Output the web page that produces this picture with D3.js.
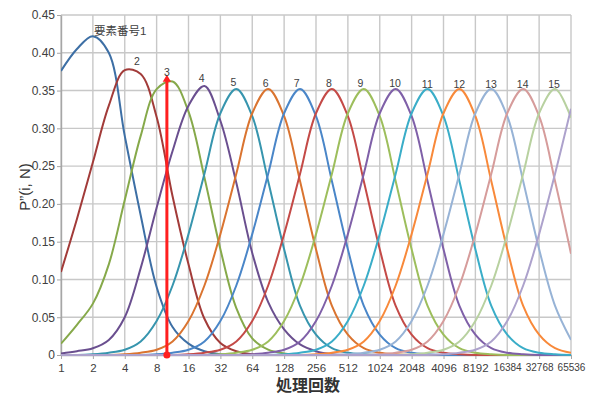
<!DOCTYPE html>
<html>
<head>
<meta charset="utf-8">
<script src="https://cdn.jsdelivr.net/npm/d3@7"></script>
<style>
body { margin: 0; background: #fff; }
text { font-family: "Liberation Sans", "Noto Sans CJK JP", sans-serif; fill: #404040; }
</style>
</head>
<body>
<svg id="chart" width="592" height="396"></svg>
<script>
// log2 of the processing count N at which every curve was read
var logN = [0,0.5,1,1.5,2,2.5,3,3.5,4,4.5,5,5.5,6,6.5,7,7.5,8,8.5,9,9.5,10,10.5,11,11.5,12,12.5,13,13.5,14,14.5,15,15.5,16];

var xTicks = [1,2,4,8,16,32,64,128,256,512,1024,2048,4096,8192,16384,32768,65536];
var yTicks = [0,0.05,0.10,0.15,0.20,0.25,0.30,0.35,0.40,0.45];

// P''(i, N), one array per element number i
var p1  = [0.376,0.405,0.422,0.400,0.290,0.185,0.090,0.037,0.015,0.005,0.001,0,0,0,0,0,0,0,0,0,0,0,0,0,0,0,0,0,0,0,0,0,0];
var p2  = [0.110,0.180,0.255,0.330,0.377,0.372,0.315,0.210,0.120,0.048,0.016,0.005,0.001,0,0,0,0,0,0,0,0,0,0,0,0,0,0,0,0,0,0,0,0];
var p3  = [0.015,0.040,0.068,0.120,0.205,0.290,0.352,0.362,0.322,0.235,0.140,0.062,0.022,0.007,0.002,0,0,0,0,0,0,0,0,0,0,0,0,0,0,0,0,0,0];
var p4  = [0.002,0.005,0.009,0.020,0.050,0.115,0.195,0.270,0.330,0.356,0.310,0.228,0.135,0.070,0.034,0.014,0.005,0.001,0,0,0,0,0,0,0,0,0,0,0,0,0,0,0];
var p5  = [0,0,0.001,0.003,0.007,0.018,0.045,0.092,0.160,0.240,0.320,0.352,0.316,0.230,0.140,0.065,0.027,0.009,0.003,0.001,0,0,0,0,0,0,0,0,0,0,0,0,0];
var p6  = [0,0,0,0,0.001,0.003,0.007,0.018,0.045,0.092,0.160,0.240,0.320,0.352,0.316,0.230,0.140,0.065,0.027,0.009,0.003,0.001,0,0,0,0,0,0,0,0,0,0,0];
var p7  = [0,0,0,0,0,0,0.001,0.003,0.007,0.018,0.045,0.092,0.160,0.240,0.320,0.352,0.316,0.230,0.140,0.065,0.027,0.009,0.003,0.001,0,0,0,0,0,0,0,0,0];
var p8  = [0,0,0,0,0,0,0,0,0.001,0.003,0.007,0.018,0.045,0.092,0.160,0.240,0.320,0.352,0.316,0.230,0.140,0.065,0.027,0.009,0.003,0.001,0,0,0,0,0,0,0];
var p9  = [0,0,0,0,0,0,0,0,0,0,0.001,0.003,0.007,0.018,0.045,0.092,0.160,0.240,0.320,0.352,0.316,0.230,0.140,0.065,0.027,0.009,0.003,0.001,0,0,0,0,0];
var p10 = [0,0,0,0,0,0,0,0,0,0,0,0,0.001,0.003,0.007,0.018,0.045,0.092,0.160,0.240,0.320,0.352,0.316,0.230,0.140,0.065,0.027,0.009,0.003,0.001,0,0,0];
var p11 = [0,0,0,0,0,0,0,0,0,0,0,0,0,0,0.001,0.003,0.007,0.018,0.045,0.092,0.160,0.240,0.320,0.352,0.316,0.230,0.140,0.065,0.027,0.009,0.003,0.001,0];
var p12 = [0,0,0,0,0,0,0,0,0,0,0,0,0,0,0,0,0.001,0.003,0.007,0.018,0.045,0.092,0.160,0.240,0.320,0.352,0.316,0.230,0.140,0.065,0.027,0.009,0.003];
var p13 = [0,0,0,0,0,0,0,0,0,0,0,0,0,0,0,0,0,0,0.001,0.003,0.007,0.018,0.045,0.092,0.160,0.240,0.320,0.352,0.316,0.230,0.140,0.065,0.020];
var p14 = [0,0,0,0,0,0,0,0,0,0,0,0,0,0,0,0,0,0,0,0,0.001,0.003,0.007,0.018,0.045,0.092,0.160,0.240,0.320,0.352,0.316,0.230,0.134];
var p15 = [0,0,0,0,0,0,0,0,0,0,0,0,0,0,0,0,0,0,0,0,0,0,0.001,0.003,0.007,0.018,0.045,0.092,0.160,0.240,0.320,0.352,0.314];
var p16 = [0,0,0,0,0,0,0,0,0,0,0,0,0,0,0,0,0,0,0,0,0,0,0,0,0.001,0.003,0.007,0.018,0.045,0.092,0.160,0.240,0.326];

var series = [p1,p2,p3,p4,p5,p6,p7,p8,p9,p10,p11,p12,p13,p14,p15,p16];

var colors = ["#3d6fa5","#a23b39","#86a94a","#6a4f8f","#3795ae","#da7430",
              "#4a86c8","#c44a47","#9dbe5c","#7f60a8","#3aadc8","#f8893a",
              "#97b3d6","#d69c9b","#b8d1a0","#ada2cc"];

// peak labels (curve 16 has none)
var labelText = ["要素番号1","2","3","4","5","6","7","8","9","10","11","12","13","14","15"];
var labelN = [2.05,5.2,10,21.3,42.4,85.7,168,339,671,1427,2880,5780,11500,22900,45300];
var labelP = [0.429,0.389,0.374,0.366,0.361,0.360,0.360,0.359,0.359,0.360,0.358,0.358,0.358,0.358,0.358];

// red marker line
var markN = 10;
var markP = 0.366;

var W = 592, H = 396;
var margin = {left: 61, right: 21, top: 15, bottom: 41};

var svg = d3.select("#chart");

var x = d3.scaleLog().base(2).domain([1, 65536]).range([margin.left, W - margin.right]);
var y = d3.scaleLinear().domain([0, 0.45]).range([H - margin.bottom, margin.top]);

svg.append("clipPath").attr("id", "plot")
  .append("rect")
    .attr("x", x(1)).attr("y", y(0.45) - 2)
    .attr("width", x(65536) - x(1)).attr("height", y(0) - y(0.45) + 3);

// grid
svg.append("g").selectAll("line").data(xTicks).enter().append("line")
    .attr("x1", function(d) { return x(d); })
    .attr("x2", function(d) { return x(d); })
    .attr("y1", y(0)).attr("y2", y(0.45))
    .attr("stroke", "#c8c8c8").attr("stroke-width", 1.4);
svg.append("g").selectAll("line").data(yTicks).enter().append("line")
    .attr("y1", function(d) { return y(d); })
    .attr("y2", function(d) { return y(d); })
    .attr("x1", x(1)).attr("x2", x(65536))
    .attr("stroke", "#c8c8c8").attr("stroke-width", 1.4);

// axes
var xAxis = d3.axisBottom(x).tickValues(xTicks).tickFormat(function(d) { return d; }).tickSizeInner(4).tickSizeOuter(0);
var gx = svg.append("g").attr("transform", "translate(0," + y(0) + ")").call(xAxis);
gx.select(".domain").attr("stroke", "#a6a6a6").attr("stroke-width", 1.4);
gx.selectAll(".tick line").attr("stroke", "#a6a6a6");
gx.selectAll(".tick text")
    .attr("y", 9)
    .style("font-size", function(d) { return d >= 16384 ? "10px" : "11.5px"; })
    .style("fill", "#404040");

var yAxis = d3.axisLeft(y).tickValues(yTicks)
    .tickFormat(function(d) { return d === 0 ? "0" : d3.format(".2f")(d); })
    .tickSizeInner(4).tickSizeOuter(0);
var gy = svg.append("g").attr("transform", "translate(" + x(1) + ",0)").call(yAxis);
gy.select(".domain").attr("stroke", "#a6a6a6").attr("stroke-width", 1.4);
gy.selectAll(".tick line").attr("stroke", "#a6a6a6");
gy.selectAll(".tick text").attr("x", -6).style("font-size", "12px").style("fill", "#404040");

// curves
var line = d3.line()
    .x(function(d, i) { return x(Math.pow(2, logN[i])); })
    .y(function(d) { return y(d); })
    .curve(d3.curveCatmullRom.alpha(0.5));

svg.append("g").attr("clip-path", "url(#plot)")
  .selectAll("path").data(series).enter().append("path")
    .attr("d", line)
    .attr("fill", "none")
    .attr("stroke", function(d, i) { return colors[i]; })
    .attr("stroke-width", 2);

// red marker
svg.append("line")
    .attr("x1", x(markN)).attr("x2", x(markN))
    .attr("y1", y(0)).attr("y2", y(markP))
    .attr("stroke", "#ff1f1f").attr("stroke-width", 3);
svg.append("circle")
    .attr("cx", x(markN)).attr("cy", y(0)).attr("r", 3.5)
    .attr("fill", "#ff1f1f");
svg.append("path")
    .attr("d", d3.symbol().type(d3.symbolTriangle).size(30))
    .attr("transform", "translate(" + x(markN) + "," + (y(markP) + 1) + ")")
    .attr("fill", "#ff1f1f");

// peak labels
svg.append("g").selectAll("text").data(labelText).enter().append("text")
    .attr("x", function(d, i) { return x(labelN[i]); })
    .attr("y", function(d, i) { return y(labelP[i]); })
    .attr("dy", "0.35em")
    .attr("text-anchor", function(d, i) { return i === 0 ? "start" : "middle"; })
    .style("font-size", function(d, i) { return i === 0 ? "11.5px" : "10.5px"; })
    .text(function(d) { return d; });

// axis titles
svg.append("text")
    .attr("x", 308).attr("y", 391)
    .attr("text-anchor", "middle")
    .style("font-size", "16px").style("font-weight", "bold")
    .style("fill", "#333")
    .text("処理回数");

svg.append("text")
    .attr("transform", "translate(30," + 187 + ") rotate(-90)")
    .attr("text-anchor", "middle")
    .style("font-size", "15px")
    .style("fill", "#333")
    .text("P”(i, N)");

// sanity check of the typed arrays
series.forEach(function(s, i) {
    if (s.length !== logN.length) {
        svg.append("text").attr("x", 300).attr("y", 20 + i * 12).style("fill", "red")
            .text("series " + (i + 1) + " has " + s.length);
    }
});
</script>
</body>
</html>
